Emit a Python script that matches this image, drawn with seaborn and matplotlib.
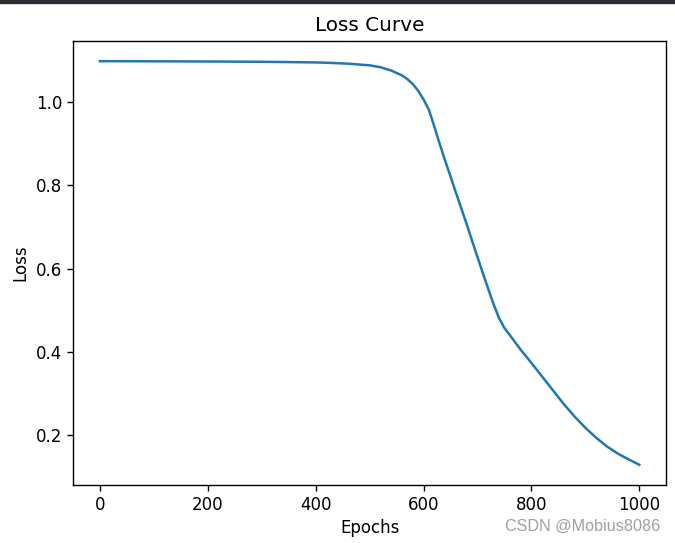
import matplotlib
matplotlib.use("Agg")
import matplotlib.pyplot as plt
import seaborn as sns
import pandas as pd
from matplotlib.patches import Rectangle

epochs = [0, 50, 100, 150, 200, 250, 300, 350, 400, 425, 460, 500, 520, 540,
          560, 570, 580, 590, 600, 610, 620, 630, 640, 650, 660, 670, 680, 690,
          700, 710, 720, 730, 740, 750, 760, 780, 800, 820, 840, 860, 880, 900,
          920, 940, 960, 980, 1000]
loss = [1.0990, 1.0989, 1.0987, 1.0985, 1.0982, 1.0979, 1.0975, 1.0968, 1.0960,
        1.0950, 1.0930, 1.0890, 1.0845, 1.0765, 1.0650, 1.0560, 1.0440, 1.0280,
        1.0070, 0.9820, 0.9420, 0.9000, 0.8600, 0.8220, 0.7830, 0.7450, 0.7070,
        0.6670, 0.6280, 0.5890, 0.5510, 0.5140, 0.4810, 0.4570, 0.4400, 0.4050,
        0.3730, 0.3400, 0.3070, 0.2740, 0.2440, 0.2170, 0.1930, 0.1720, 0.1550,
        0.1410, 0.1280]

title = "Loss Curve"
xlabel = "Epochs"
ylabel = "Loss"
watermark = "CSDN @Mobius8086"

df = pd.DataFrame({"Epochs": epochs, "Loss": loss})

fig = plt.figure(figsize=(6.75, 5.43), dpi=100)
ax = fig.add_axes([0.108, 0.107, 0.879, 0.8175])
sns.lineplot(data=df, x="Epochs", y="Loss", ax=ax, color="#1f77b4", linewidth=1.8)
ax.set_title(title, fontsize=14.4, pad=7)
ax.set_xlabel(xlabel, fontsize=12, labelpad=4)
ax.set_ylabel(ylabel, fontsize=12, labelpad=5)
ax.set_xticks([0, 200, 400, 600, 800, 1000])
ax.set_yticks([0.2, 0.4, 0.6, 0.8, 1.0])
ax.tick_params(labelsize=12, length=4.2, width=1)
for s in ax.spines.values():
    s.set_linewidth(1)

# dark band at the top of the screenshot
fig.patches.append(Rectangle((0, 1 - 3 / 543), 1, 3 / 543, transform=fig.transFigure,
                             color="#2b2d33", zorder=10))
fig.text(0.978, 0.03, watermark, ha="right", va="center", fontsize=11.6,
         color="#a0a0a0", family="Liberation Sans")

fig.savefig("out.png", dpi=100)
